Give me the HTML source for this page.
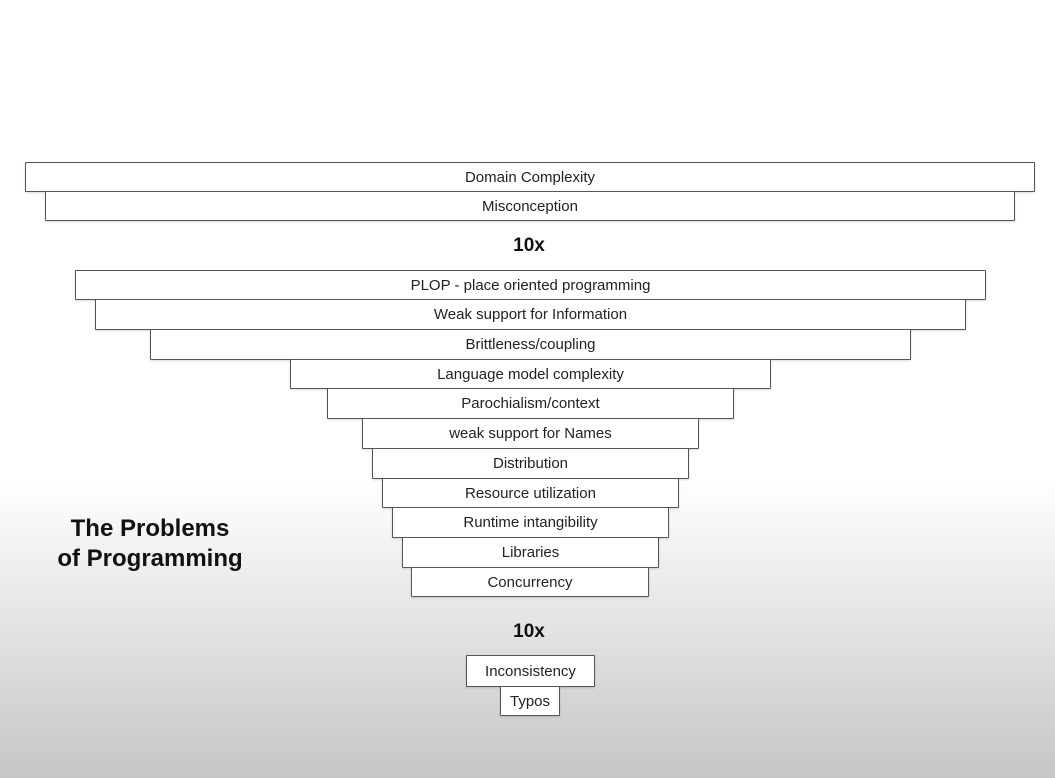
<!DOCTYPE html>
<html><head><style>
body{margin:0;width:1055px;height:778px;overflow:hidden;position:relative;font-family:"Liberation Sans",sans-serif;
background:linear-gradient(to bottom,#fff 0px,#fff 480px,#e8e8e8 600px,#c6c6c6 778px);}
.b{position:absolute;box-sizing:border-box;border:1.5px solid #555;background:#fff;text-align:center;font-size:15px;color:#222;border-radius:1px;box-shadow:0 1px 2px rgba(0,0,0,0.15);}
.t{position:absolute;font-weight:bold;color:#111;}
</style></head><body>
<div class="b" style="left:25px;top:162px;width:1010px;height:30px;line-height:29px">Domain Complexity</div>
<div class="b" style="left:45px;top:191px;width:970px;height:30px;line-height:29px">Misconception</div>
<div class="t" style="left:0;width:1058px;text-align:center;top:235px;font-size:19px">10x</div>
<div class="b" style="left:75px;top:270px;width:911px;height:30px;line-height:29px">PLOP - place oriented programming</div>
<div class="b" style="left:95px;top:299px;width:871px;height:31px;line-height:30px">Weak support for Information</div>
<div class="b" style="left:150px;top:329px;width:761px;height:31px;line-height:30px">Brittleness/coupling</div>
<div class="b" style="left:290px;top:359px;width:481px;height:30px;line-height:29px">Language model complexity</div>
<div class="b" style="left:327px;top:388px;width:407px;height:31px;line-height:30px">Parochialism/context</div>
<div class="b" style="left:362px;top:418px;width:337px;height:31px;line-height:30px">weak support for Names</div>
<div class="b" style="left:372px;top:448px;width:317px;height:31px;line-height:30px">Distribution</div>
<div class="b" style="left:382px;top:478px;width:297px;height:30px;line-height:29px">Resource utilization</div>
<div class="b" style="left:392px;top:507px;width:277px;height:31px;line-height:30px">Runtime intangibility</div>
<div class="b" style="left:402px;top:537px;width:257px;height:31px;line-height:30px">Libraries</div>
<div class="b" style="left:411px;top:567px;width:238px;height:30px;line-height:29px">Concurrency</div>
<div class="t" style="left:0;width:1058px;text-align:center;top:621px;font-size:19px">10x</div>
<div class="b" style="left:466px;top:655px;width:129px;height:32px;line-height:31px">Inconsistency</div>
<div class="b" style="left:500px;top:686px;width:60px;height:30px;line-height:29px">Typos</div>
<div class="t" style="left:30px;width:240px;text-align:center;top:514px;font-size:24px;line-height:30px">The Problems<br>of Programming</div>
</body></html>
